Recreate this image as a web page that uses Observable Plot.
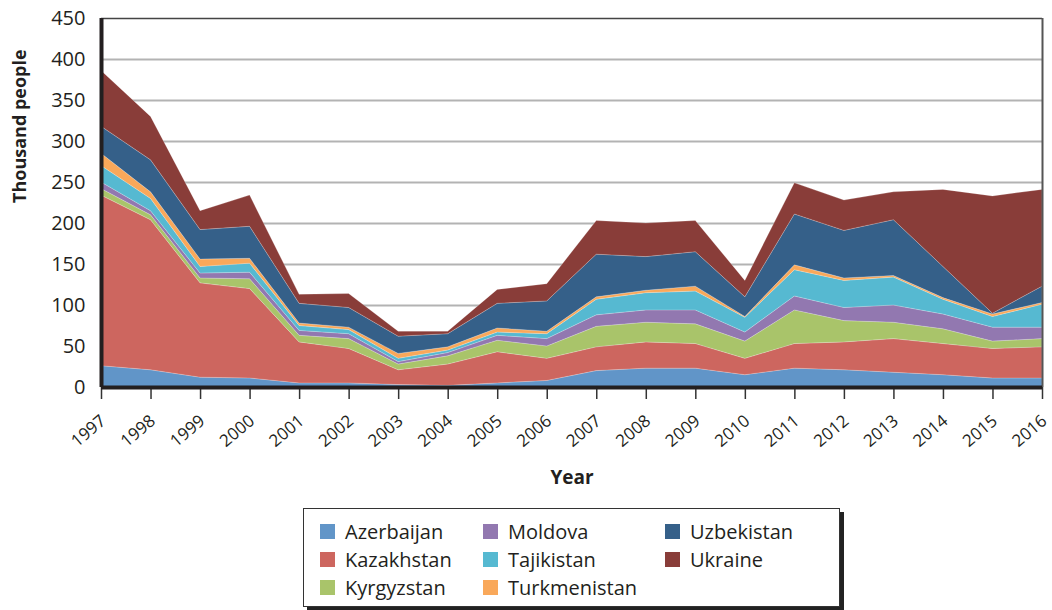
<!DOCTYPE html>
<html>
<head>
<meta charset="utf-8">
<script src="https://cdn.jsdelivr.net/npm/d3@7"></script>
<script src="https://cdn.jsdelivr.net/npm/@observablehq/plot@0.6"></script>
<style>
  body { margin: 0; background: #fff; font-family: "Open Sans", sans-serif; }
  #wrap { position: relative; width: 1052px; height: 610px; }
  #legend { position: absolute; left: 303px; top: 508px; width: 537px; height: 99px; box-sizing: border-box;
            border: 1px solid #333; background: #fff; box-shadow: 4px 4px 0 #222; }
  .item { position: absolute; display: flex; align-items: center; font-size: 20px; color: #231f20; height: 26px; }
  .sw { width: 15px; height: 15px; margin-right: 10px; }
</style>
</head>
<body>
<div id="wrap"><div id="chart"></div><div id="legend"></div></div>
<script>
const years = [1997,1998,1999,2000,2001,2002,2003,2004,2005,2006,2007,2008,2009,2010,2011,2012,2013,2014,2015,2016];
const countries = ["Azerbaijan","Kazakhstan","Kyrgyzstan","Moldova","Tajikistan","Turkmenistan","Uzbekistan","Ukraine"];
const colors = ["#6195c8","#cd665f","#a9c46a","#9278b0","#56b9d1","#f9a85a","#356089","#893d39"];

const azerbaijan   = [26, 21, 12, 11,  5,  5,  3,  2,  5,  8, 20, 23, 23, 15, 23, 21, 18, 15, 11, 11];
const kazakhstan   = [208,183,115,109, 50, 42, 18, 26, 38, 27, 29, 32, 30, 20, 30, 34, 41, 38, 36, 38];
const kyrgyzstan   = [ 8,  6,  6, 12,  8, 12,  7, 10, 14, 15, 25, 24, 24, 21, 41, 26, 20, 18,  9, 10];
const moldova      = [ 8,  5,  6,  8,  6,  6,  3,  4,  6,  9, 14, 15, 17, 11, 17, 16, 21, 18, 17, 14];
const tajikistan   = [20, 15,  8, 11,  6,  5,  4,  3,  4,  6, 19, 21, 23, 18, 32, 33, 34, 18, 13, 28];
const turkmenistan = [15,  8,  9,  6,  3,  3,  6,  4,  5,  3,  3,  3,  6,  1,  6,  3,  2,  2,  3,  2];
const uzbekistan   = [33, 39, 36, 39, 24, 24, 21, 16, 30, 37, 52, 41, 42, 24, 62, 58, 68, 38,  1, 20];
const ukraine      = [68, 53, 23, 38, 11, 17,  6,  3, 17, 21, 41, 41, 38, 20, 38, 37, 34, 94,143,118];

const series = [azerbaijan, kazakhstan, kyrgyzstan, moldova, tajikistan, turkmenistan, uzbekistan, ukraine];
const data = [];
countries.forEach((c, i) => years.forEach((y, j) => data.push({country: c, year: y, value: series[i][j]})));

const yTicks = d3.range(0, 451, 50);

const chart = Plot.plot({
  width: 1052,
  height: 500,
  marginLeft: 101,
  marginRight: 10,
  marginTop: 18,
  marginBottom: 113,
  style: {fontFamily: "Open Sans, sans-serif", color: "#231f20", background: "#fff", overflow: "visible"},
  x: {type: "linear", domain: [1997, 2016], axis: null},
  y: {domain: [0, 450], axis: null},
  color: {domain: countries, range: colors},
  marks: [
    Plot.gridY(yTicks.filter(d => d > 0 && d < 450), {stroke: "#b3b3b3", strokeOpacity: 1, strokeWidth: 2}),
    Plot.areaY(data, {x: "year", y: "value", fill: "country", order: countries, stroke: "#fff", strokeWidth: 0.4, strokeOpacity: 0.5}),
    Plot.ruleY([450], {stroke: "#444", strokeWidth: 1.5}),
    Plot.ruleX([2016], {stroke: "#555", strokeWidth: 2}),
    Plot.axisY({ticks: yTicks, tickSize: 0, tickPadding: 16, fontSize: 20, label: null}),
    Plot.axisX({ticks: years, tickSize: 12, tickFormat: () => "", label: null, stroke: "#333", strokeWidth: 1.5}),
    Plot.ruleX([1997], {stroke: "#231f20", strokeWidth: 4}),
    Plot.ruleY([0], {stroke: "#231f20", strokeWidth: 4}),
    Plot.text(years, {x: d => d, text: d => String(d), frameAnchor: "bottom", rotate: -40, textAnchor: "end",
                      lineAnchor: "middle", dx: 2, dy: 31, fontSize: 17, fill: "#231f20"}),
    Plot.text(["Year"], {frameAnchor: "bottom", dy: 96, fontSize: 19, fontWeight: "bold", fill: "#231f20"}),
    Plot.text(["Thousand people"], {frameAnchor: "left", dx: -81, rotate: -90, fontSize: 18, fontWeight: "bold", fill: "#231f20"})
  ]
});
document.getElementById("chart").appendChild(chart);

// legend
const legend = document.getElementById("legend");
const colX = [16, 179, 361];
const rowY = [9, 37, 65];
countries.forEach((c, i) => {
  const col = Math.floor(i / 3), row = i % 3;
  const div = document.createElement("div");
  div.className = "item";
  div.style.left = colX[col] + "px";
  div.style.top = rowY[row] + "px";
  div.innerHTML = `<span class="sw" style="background:${colors[i]}"></span><span>${c}</span>`;
  legend.appendChild(div);
});
</script>
</body>
</html>
